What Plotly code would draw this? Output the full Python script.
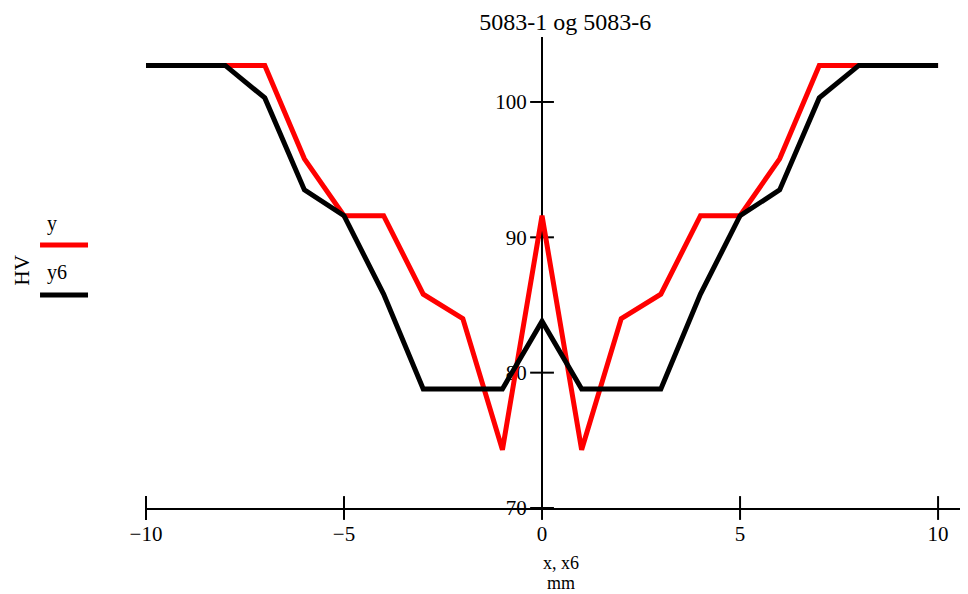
import plotly.graph_objects as go

x = [-10, -9, -8, -7, -6, -5, -4, -3, -2, -1, 0, 1, 2, 3, 4, 5, 6, 7, 8, 9, 10]
y = [102.7, 102.7, 102.7, 102.7, 95.8, 91.6, 91.6, 85.8, 84.0, 74.3, 91.6,
     74.3, 84.0, 85.8, 91.6, 91.6, 95.8, 102.7, 102.7, 102.7, 102.7]
y6 = [102.7, 102.7, 102.7, 100.3, 93.5, 91.6, 85.8, 78.8, 78.8, 78.8, 83.8,
      78.8, 78.8, 78.8, 85.8, 91.6, 93.5, 100.3, 102.7, 102.7, 102.7]

x_ticks = [-10, -5, 0, 5, 10]
y_ticks = [70, 80, 90, 100]

x_range = [-10, 10.68]
y_range = [70, 104.8]

font = "Liberation Serif, Times New Roman, serif"

fig = go.Figure()

# cross-shaped tick marks like the original (through the axis line)
fig.add_trace(go.Scatter(
    x=x_ticks, y=[y_range[0]] * len(x_ticks), mode="markers",
    marker=dict(symbol="line-ns", size=17, line=dict(width=2, color="black")),
    cliponaxis=False, showlegend=False, hoverinfo="skip"))
fig.add_trace(go.Scatter(
    x=[0] * len(y_ticks), y=y_ticks, mode="markers",
    marker=dict(symbol="line-ew", size=17, line=dict(width=2, color="black")),
    cliponaxis=False, showlegend=False, hoverinfo="skip"))

fig.add_trace(go.Scatter(x=x, y=y, mode="lines", name="y",
                         line=dict(color="#ff0000", width=5), showlegend=False))
fig.add_trace(go.Scatter(x=x, y=y6, mode="lines", name="y6",
                         line=dict(color="#000000", width=5), showlegend=False))

pos0 = (0 - x_range[0]) / (x_range[1] - x_range[0])

# the page body adds an 8px offset, margins compensate for it
fig.update_layout(
    width=968, height=594,
    margin=dict(l=138, r=11, t=29, b=94),
    paper_bgcolor="white", plot_bgcolor="white",
    font=dict(family=font, size=21, color="black"),
    title=dict(text="5083-1 og 5083-6", x=0.512, xref="paper", xanchor="center",
               y=1 - 14 / 594, yanchor="middle", font=dict(size=24)),
    xaxis=dict(range=x_range, tickvals=x_ticks, ticks="", showgrid=False,
               zeroline=False, showline=True, linecolor="black", linewidth=2,
               ticklabelstandoff=6, layer="below traces"),
    yaxis=dict(range=y_range, tickvals=y_ticks, ticks="", showgrid=False,
               zeroline=False, showline=True, linecolor="black", linewidth=2,
               anchor="free", position=pos0, ticklabelstandoff=10,
               layer="below traces"),
)

annotations = [
    dict(text="x, x6", x=0.507, xref="paper", y=-0.117, yref="paper", showarrow=False,
         xanchor="center", yanchor="middle", font=dict(size=18)),
    dict(text="mm", x=0.507, xref="paper", y=-0.159, yref="paper", showarrow=False,
         xanchor="center", yanchor="middle", font=dict(size=18)),
    dict(text="HV", x=-0.151, xref="paper", y=0.505, yref="paper", showarrow=False,
         xanchor="center", yanchor="middle", textangle=-90, font=dict(size=21)),
    dict(text="y", x=-0.1233, xref="paper", y=0.603, yref="paper", xanchor="left",
         yanchor="middle", showarrow=False, font=dict(size=20)),
    dict(text="y6", x=-0.1233, xref="paper", y=0.501, yref="paper", xanchor="left",
         yanchor="middle", showarrow=False, font=dict(size=20)),
]
fig.update_layout(annotations=annotations)

fig.add_shape(type="line", xref="paper", yref="paper", x0=-0.1294, x1=-0.0708,
              y0=0.5584, y1=0.5584, line=dict(color="#ff0000", width=5))
fig.add_shape(type="line", xref="paper", yref="paper", x0=-0.1294, x1=-0.0708,
              y0=0.4522, y1=0.4522, line=dict(color="#000000", width=5))

fig.write_html("out.html")
